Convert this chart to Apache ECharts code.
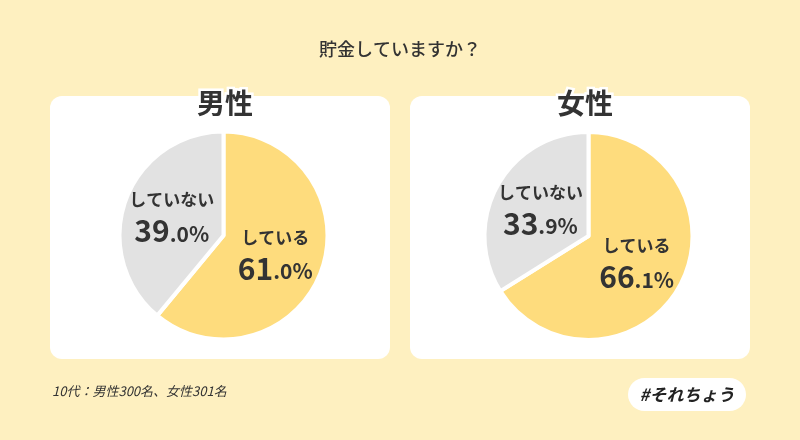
<!DOCTYPE html>
<html>
<head>
<meta charset="utf-8">
<script src="https://cdn.jsdelivr.net/npm/echarts@6/dist/echarts.min.js"></script>
<style>
html,body{margin:0;padding:0;background:#FEF0C0;}
#c{width:800px;height:440px;}
</style>
</head>
<body>
<div id="c"></div>
<script>
const chartTitle = '貯金していますか？';
const groups = ['男性', '女性'];
const categories = ['している', 'していない'];
const maleValues = [61.0, 39.0];
const femaleValues = [66.1, 33.9];
const footnote = '10代：男性300名、女性301名';
const tagText = '#それちょう';

const FONT = '"Noto Sans CJK JP", "Noto Sans", sans-serif';
const sliceColors = ['#FEDC7D', '#E2E2E2'];

function pieSeries(values, center) {
  return {
    type: 'pie',
    center: center,
    radius: [0, 104],
    startAngle: 90,
    clockwise: true,
    silent: true,
    animation: false,
    itemStyle: { borderColor: '#ffffff', borderWidth: 4 },
    label: {
      show: true,
      position: 'inside',
      formatter: function (p) {
        const s = p.value.toFixed(1);
        const parts = s.split('.');
        return '{n|' + p.name + '}\n{b|' + parts[0] + '}{s|.' + parts[1] + '%}';
      },
      rich: {
        n: { fontFamily: FONT, fontWeight: 'bold', fontSize: 17, color: '#333333', lineHeight: 28, align: 'center' },
        b: { fontFamily: FONT, fontWeight: 'bold', fontSize: 30, color: '#333333', lineHeight: 34 },
        s: { fontFamily: FONT, fontWeight: 'bold', fontSize: 21, color: '#333333', lineHeight: 34, padding: [6, 0, 0, 0] }
      }
    },
    labelLine: { show: false },
    data: categories.map((c, i) => ({ name: c, value: values[i], itemStyle: { color: sliceColors[i] } }))
  };
}

const chart = echarts.init(document.getElementById('c'));
chart.setOption({
  backgroundColor: '#FEF0C0',
  animation: false,
  title: [
    { text: chartTitle, left: 'center', top: 35, textStyle: { fontFamily: FONT, fontSize: 18, fontWeight: 500, color: '#333333' } },
    { text: groups[0], left: 220, top: 84, textAlign: 'center', textStyle: { fontFamily: FONT, fontSize: 28, fontWeight: 'bold', color: '#333333', textBorderColor: '#ffffff', textBorderWidth: 5 } },
    { text: groups[1], left: 580, top: 84, textAlign: 'center', textStyle: { fontFamily: FONT, fontSize: 28, fontWeight: 'bold', color: '#333333', textBorderColor: '#ffffff', textBorderWidth: 5 } }
  ],
  graphic: [
    { type: 'rect', z: -10, shape: { x: 50, y: 96, width: 340, height: 263, r: 12 }, style: { fill: '#ffffff' } },
    { type: 'rect', z: -10, shape: { x: 410, y: 96, width: 340, height: 263, r: 12 }, style: { fill: '#ffffff' } },
    { type: 'text', left: 52, top: 385, style: { text: footnote, font: 'italic 13px ' + FONT, fill: '#333333' } },
    { type: 'rect', shape: { x: 628, y: 378, width: 118, height: 33, r: 16.5 }, style: { fill: '#ffffff' } },
    { type: 'text', x: 687, y: 394.5, style: { text: tagText, font: 'italic bold 17px ' + FONT, fill: '#222222', align: 'center', verticalAlign: 'middle' } }
  ],
  series: [
    pieSeries(maleValues, [223.5, 235.5]),
    pieSeries(femaleValues, [588.5, 236])
  ]
});
</script>
</body>
</html>
